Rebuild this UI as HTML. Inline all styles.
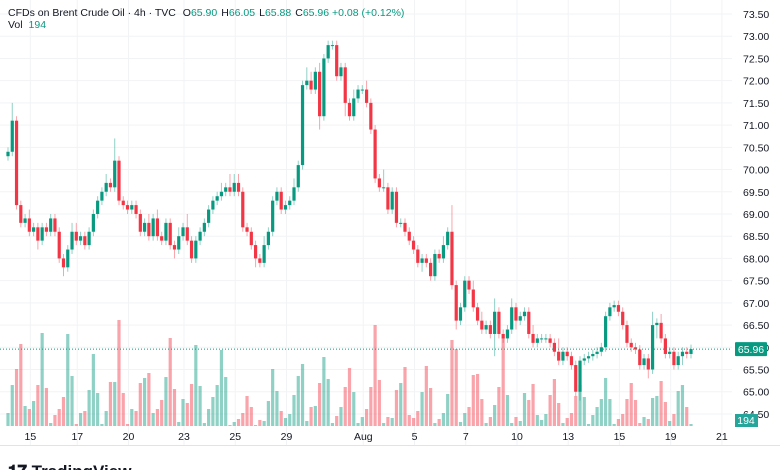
<!DOCTYPE html>
<html><head><meta charset="utf-8"><style>
body{margin:0;background:#fff;width:780px;height:470px;overflow:hidden;font-family:"Liberation Sans",sans-serif}
svg{display:block}
</style></head><body>
<svg id="chart" width="780" height="470" xmlns="http://www.w3.org/2000/svg">
<g id="grid"></g>
<g id="vol"></g>
<g id="candles"></g>
<g id="axes"></g>
<text x="8" y="16" font-size="10.5" fill="#131722">CFDs on Brent Crude Oil · 4h · TVC <tspan dx="4">O</tspan><tspan fill="#089981">65.90</tspan><tspan dx="4">H</tspan><tspan fill="#089981">66.05</tspan><tspan dx="4">L</tspan><tspan fill="#089981">65.88</tspan><tspan dx="4">C</tspan><tspan fill="#089981">65.96 +0.08 (+0.12%)</tspan></text>
<text x="8" y="28" font-size="10.5" fill="#131722">Vol <tspan dx="3" fill="#089981">194</tspan></text>
<text x="8" y="477" font-size="17" font-weight="bold" fill="#131722">𝟏𝟕 TradingView</text>
</svg>
<script>
const closes=[70.4,71.1,69.2,68.8,68.9,68.6,68.7,68.4,68.7,68.6,68.9,68.6,68.0,67.8,68.2,68.6,68.4,68.5,68.3,68.6,69.0,69.3,69.5,69.7,69.6,70.2,69.3,69.2,69.1,69.2,69.0,68.6,68.8,68.5,68.9,68.5,68.4,68.8,68.3,68.2,68.5,68.7,68.4,68.0,68.4,68.6,68.8,69.1,69.3,69.4,69.5,69.6,69.5,69.7,69.5,68.7,68.6,68.3,68.0,67.9,68.3,68.6,69.3,69.5,69.1,69.2,69.3,69.6,70.1,71.9,72.0,71.8,72.2,71.2,72.5,72.8,72.8,72.1,72.3,71.5,71.2,71.6,71.8,71.8,71.5,70.9,69.8,69.6,69.6,69.1,69.5,68.8,68.8,68.6,68.4,68.2,67.9,68.0,67.9,67.6,68.1,68.0,68.3,68.6,67.4,66.6,66.9,67.5,67.3,66.9,66.6,66.4,66.5,66.3,66.8,66.3,66.2,66.4,66.9,66.6,66.7,66.8,66.3,66.1,66.2,66.2,66.2,66.1,65.9,65.7,65.9,65.8,65.6,65.0,65.7,65.75,65.8,65.85,65.9,66.0,66.7,66.9,66.95,66.8,66.5,66.1,66.0,65.95,65.6,65.75,65.5,66.5,66.55,66.2,65.85,65.9,65.6,65.8,65.9,65.85,65.96];
const wickUp=[0.1,0.4,0.1,0.1,0.1,0.2,0.1,0.1,0.1,0.1,0.1,0.1,0.1,0.1,0.1,0.2,0.2,0.1,0.1,0.1,0.1,0.1,0.1,0.2,0.1,0.5,0.1,0.1,0.1,0.1,0.1,0.1,0.1,0.2,0.1,0.2,0.1,0.1,0.1,0.1,0.2,0.1,0.3,0.1,0.1,0.1,0.1,0.1,0.1,0.1,0.2,0.1,0.3,0.2,0.2,0.1,0.1,0.1,0.1,0.1,0.2,0.1,0.1,0.1,0.1,0.1,0.1,0.2,0.1,0.1,0.3,0.2,0.1,0.2,0.1,0.1,0.1,0.1,0.1,0.1,0.1,0.2,0.1,0.1,0.2,0.1,0.1,0.1,0.4,0.1,0.1,0.1,0.1,0.1,0.1,0.1,0.1,0.1,0.1,0.1,0.1,0.1,0.2,0.1,0.6,0.1,0.1,0.1,0.1,0.2,0.1,0.2,0.1,0.1,0.3,0.1,0.1,0.1,0.2,0.1,0.1,0.1,0.1,0.2,0.1,0.1,0.1,0.1,0.1,0.3,0.1,0.1,0.1,0.1,0.1,0.1,0.1,0.1,0.1,0.1,0.1,0.1,0.1,0.1,0.1,0.1,0.1,0.1,0.1,0.1,0.1,0.3,0.1,0.2,0.1,0.1,0.1,0.1,0.1,0.1,0.1];
const wickDn=[0.1,0.1,0.1,0.1,0.1,0.1,0.1,0.2,0.1,0.1,0.1,0.1,0.1,0.2,0.1,0.1,0.1,0.1,0.1,0.1,0.1,0.1,0.1,0.1,0.1,0.1,0.1,0.1,0.1,0.1,0.1,0.1,0.1,0.1,0.1,0.1,0.1,0.1,0.1,0.2,0.1,0.1,0.1,0.1,0.1,0.1,0.1,0.1,0.1,0.1,0.1,0.1,0.1,0.1,0.1,0.1,0.1,0.1,0.2,0.1,0.1,0.1,0.1,0.1,0.1,0.1,0.1,0.1,0.1,0.1,0.1,0.1,0.1,0.3,0.1,0.1,0.1,0.1,0.1,0.3,0.1,0.1,0.1,0.1,0.1,0.1,0.1,0.1,0.1,0.1,0.1,0.1,0.1,0.1,0.1,0.1,0.1,0.2,0.1,0.1,0.1,0.1,0.1,0.1,0.1,0.2,0.1,0.1,0.1,0.1,0.1,0.1,0.1,0.1,0.5,0.1,0.1,0.1,0.1,0.2,0.1,0.1,0.1,0.1,0.1,0.1,0.1,0.1,0.1,0.1,0.1,0.1,0.1,0.1,0.2,0.1,0.1,0.1,0.1,0.1,0.1,0.1,0.1,0.1,0.1,0.1,0.1,0.1,0.1,0.1,0.2,0.1,0.3,0.1,0.1,0.1,0.1,0.1,0.2,0.1,0.1];
const volumes=[13,41,57,82,20,17,25,41,93,38,3,11,17,29,92,50,2,13,15,36,72,33,2,15,44,44,106,33,2,17,15,43,48,53,13,17,26,49,88,37,4,27,23,42,81,40,3,17,29,41,76,49,1,4,7,13,30,19,1,6,5,25,57,35,15,8,12,31,50,62,5,19,20,43,69,47,3,10,19,39,58,34,3,9,17,39,101,46,3,9,8,36,43,59,11,8,15,34,60,38,3,7,13,32,86,77,4,13,19,51,52,27,3,9,21,39,88,31,3,9,5,33,26,42,11,6,12,31,47,23,3,8,13,30,41,29,2,11,19,27,48,27,2,7,12,27,43,26,3,9,7,28,30,45,24,5,12,35,41,19,2];
const priceTicks=["73.50","73.00","72.50","72.00","71.50","71.00","70.50","70.00","69.50","69.00","68.50","68.00","67.50","67.00","66.50","66.00","65.50","65.00","64.50"];
const dateLabels=["15","17","20","23","25","29","Aug","5","7","10","13","15","19","21"];
const dateBarIdx=[5,16,28,41,53,65,83,95,107,119,131,143,155,167];
const lastPrice=65.96, lastVol=194;

const NS="http://www.w3.org/2000/svg";
const X0=8, STEP=(691-8)/160, PLOT_R=732, VOL_BASE=426;
const xOf=i=>X0+i*STEP;
const yOf=p=>14+(73.5-p)*44.44;
const vOf=v=>v*1.0;
function mk(tag,attrs,parent){const e=document.createElementNS(NS,tag);for(const k in attrs)e.setAttribute(k,attrs[k]);parent.appendChild(e);return e;}
const grid=document.getElementById('grid'),vol=document.getElementById('vol'),cg=document.getElementById('candles'),ax=document.getElementById('axes');

priceTicks.forEach(t=>{const y=yOf(parseFloat(t));
 const l=mk('line',{x1:0,x2:PLOT_R,y1:y,y2:y,stroke:'#f2f3f5','stroke-width':1},grid);
 
 
 const tx=mk('text',{x:743,y:y+4,'font-size':10.5,fill:'#131722'},ax);tx.textContent=t;
 
 
});
dateLabels.forEach((d,k)=>{const x=xOf(dateBarIdx[k])+1;
 const l=mk('line',{x1:x,x2:x,y1:0,y2:445,stroke:'#f2f3f5','stroke-width':1},grid);
 
 
 const tx=mk('text',{x:x,y:440,'font-size':10.5,fill:'#131722','text-anchor':'middle'},ax);tx.textContent=d;
 
 
});
const bl=mk('line',{x1:0,x2:780,y1:445.5,y2:445.5,stroke:'#e0e3eb'},ax);



closes.forEach((c,i)=>{
 const o=i===0?70.3:closes[i-1];const up=c>=o;
 const hi=Math.max(o,c)+wickUp[i],lo=Math.min(o,c)-wickDn[i];
 const col=up?'#089981':'#f23645', x=xOf(i);
 const v=volumes[i]; const vh=vOf(v);
 const vb=mk('rect',{x:x-1.6,y:VOL_BASE-vh,width:3.2,height:vh,fill:up?'#089981':'#f23645','fill-opacity':0.45},vol);
 
 
 const w=mk('line',{x1:x,x2:x,y1:yOf(hi),y2:yOf(lo),stroke:col,'stroke-opacity':0.45,'stroke-width':1},cg);
 
 
 const yt=yOf(Math.max(o,c)),yb=yOf(Math.min(o,c));
 const b=mk('rect',{x:x-1.6,y:yt,width:3.2,height:Math.max(1,yb-yt),fill:col},cg);
 
 
});
const ly=yOf(lastPrice);
const pl=mk('line',{x1:0,x2:PLOT_R,y1:ly,y2:ly,stroke:'#089981','stroke-dasharray':'1 2','stroke-width':1},ax);


const pb=mk('rect',{x:735,y:ly-7,width:32,height:14,fill:'#089981',rx:1},ax);


const pt=mk('text',{x:751,y:ly+4,'font-size':10.5,fill:'#fff','text-anchor':'middle'},ax);pt.textContent=lastPrice.toFixed(2);


const vbx=mk('rect',{x:735,y:414,width:23,height:13,fill:'#26a69a'},ax);


const vt=mk('text',{x:746,y:424,'font-size':10.5,fill:'#fff','text-anchor':'middle'},ax);vt.textContent=lastVol;


</script>
</body></html>
